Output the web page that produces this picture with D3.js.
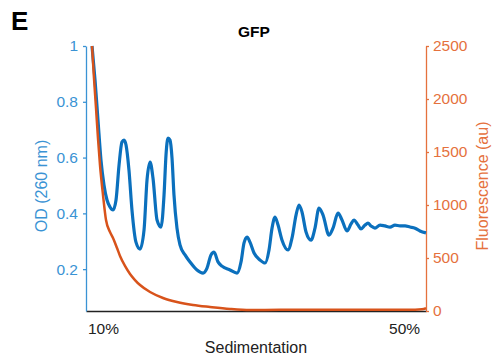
<!DOCTYPE html>
<html>
<head>
<meta charset="utf-8">
<script src="https://cdn.jsdelivr.net/npm/d3@7"></script>
<style>
  body { margin: 0; background: #fff; }
  svg text { font-family: "Liberation Sans", Arial, sans-serif; }
</style>
</head>
<body>
<svg id="chart" width="493" height="362"></svg>
<script>
// sedimentation position (%)
const xLim = [7.74, 52.92]
const xTicks = [10, 50]
const xTickLabels = ['10%', '50%']

const odTicks = [0.2, 0.4, 0.6, 0.8, 1]
const odLim = [0.05, 1]
const fluTicks = [0, 500, 1000, 1500, 2000, 2500]
const fluLim = [0, 2500]

// OD 260 trace (blue)
const odX = [8.54, 8.94, 9.33, 9.73, 10.13, 10.53, 10.93, 11.33, 11.73, 12.13, 12.52, 12.79, 13.06, 13.45,
  13.85, 14.38, 14.92, 15.45, 15.85, 16.25, 16.64, 17.18, 17.71, 18.11, 18.37, 18.64, 18.90, 19.17, 19.43,
  19.83, 20.23, 20.90, 21.56, 22.49, 23.29, 23.82, 24.35, 24.75, 25.28, 25.81, 26.88, 27.81, 28.34, 28.74,
  29.14, 29.53, 30.07, 30.86, 31.53, 32.06, 32.46, 32.86, 33.26, 33.79, 34.58, 35.12, 35.65, 36.05, 36.44,
  36.98, 37.64, 38.17, 38.70, 39.24, 40.03, 40.56, 41.23, 41.76, 42.42, 42.96, 43.35, 43.89, 44.28, 44.82,
  45.21, 45.61, 46.14, 46.81, 47.47, 48.14, 48.80, 49.47, 50.13, 50.80, 51.46, 52.12, 52.92]
const odY = [1.00, 0.878, 0.735, 0.591, 0.502, 0.448, 0.423, 0.412, 0.448, 0.573, 0.656, 0.663, 0.645, 0.555,
  0.412, 0.297, 0.272, 0.340, 0.520, 0.584, 0.527, 0.376, 0.351, 0.466, 0.609, 0.670, 0.663, 0.598, 0.466,
  0.347, 0.287, 0.251, 0.226, 0.197, 0.186, 0.204, 0.251, 0.261, 0.226, 0.211, 0.197, 0.186, 0.226, 0.294,
  0.315, 0.297, 0.258, 0.233, 0.222, 0.269, 0.347, 0.387, 0.358, 0.304, 0.269, 0.312, 0.394, 0.430, 0.405,
  0.333, 0.304, 0.347, 0.419, 0.394, 0.322, 0.347, 0.401, 0.376, 0.337, 0.362, 0.376, 0.358, 0.344, 0.358,
  0.365, 0.355, 0.347, 0.358, 0.355, 0.351, 0.358, 0.355, 0.355, 0.351, 0.347, 0.337, 0.330]

// GFP fluorescence trace (orange)
const fluX = [8.54, 8.80, 9.07, 9.33, 9.60, 10.00, 10.40, 10.93, 11.33, 11.86, 12.26, 12.92, 13.59, 14.25,
  14.92, 16.25, 17.97, 19.83, 21.96, 24.22, 26.88, 29.53, 33.52, 38.84, 44.15, 49.47, 51.46, 52.39, 52.92]
const fluY = [2500, 2198, 1915, 1632, 1377, 1094, 858, 745, 689, 594, 519, 425, 349, 292,
  245, 179, 123, 85, 57, 38, 19, 9, 12, 12, 12, 12, 12, 16, 26]

const blueLine = '#0b70bd', blueAxis = '#3a93d4'
const orangeLine = '#d8531b', orangeAxis = '#e5713d'

const svg = d3.select('#chart')
const m = { left: 86, right: 426, top: 46, bottom: 311 }

const x = d3.scaleLinear().domain(xLim).range([m.left, m.right])
const yOd = d3.scaleLinear().domain(odLim).range([m.bottom, m.top])
const yFlu = d3.scaleLinear().domain(fluLim).range([m.bottom, m.top])

// panel letter + title
svg.append('text').attr('x', 11).attr('y', 30)
  .attr('font-size', 26).attr('font-weight', 'bold').text('E')
svg.append('text').attr('x', 254).attr('y', 37).attr('text-anchor', 'middle')
  .attr('font-size', 15.5).attr('font-weight', 'bold').text('GFP')

// x axis (black)
const gx = svg.append('g').attr('transform', `translate(0,${m.bottom})`)
  .call(d3.axisBottom(x).tickValues(xTicks).tickFormat((d, i) => xTickLabels[i]).tickSize(0).tickPadding(12))
gx.select('.domain').attr('stroke', '#222').attr('stroke-width', 1.3)
gx.selectAll('text').attr('font-size', 15.5).attr('fill', '#222').attr('font-family', '"Liberation Sans", Arial, sans-serif')

// left axis
const gl = svg.append('g').attr('transform', `translate(${m.left},0)`)
  .call(d3.axisLeft(yOd).tickValues(odTicks).tickFormat(d3.format('~g')).tickSizeInner(3).tickSizeOuter(0).tickPadding(5))
gl.select('.domain').attr('stroke', blueAxis).attr('stroke-width', 1.3)
gl.selectAll('line').attr('stroke', blueAxis).attr('stroke-width', 1.3)
gl.selectAll('text').attr('font-size', 15.5).attr('fill', blueAxis).attr('font-family', '"Liberation Sans", Arial, sans-serif')

// right axis
const gr = svg.append('g').attr('transform', `translate(${m.right},0)`)
  .call(d3.axisRight(yFlu).tickValues(fluTicks).tickFormat(d3.format('d')).tickSizeInner(3).tickSizeOuter(0).tickPadding(4))
gr.select('.domain').attr('stroke', orangeAxis).attr('stroke-width', 1.3)
gr.selectAll('line').attr('stroke', orangeAxis).attr('stroke-width', 1.3)
gr.selectAll('text').attr('font-size', 15.5).attr('fill', orangeAxis).attr('font-family', '"Liberation Sans", Arial, sans-serif')

// axis titles
svg.append('text').attr('transform', 'translate(47,186) rotate(-90)').attr('text-anchor', 'middle')
  .attr('font-size', 16).attr('fill', blueAxis).text('OD (260 nm)')
svg.append('text').attr('transform', 'translate(488,186) rotate(-90)').attr('text-anchor', 'middle')
  .attr('font-size', 16).attr('fill', orangeAxis).text('Fluorescence (au)')
svg.append('text').attr('x', 256).attr('y', 353).attr('text-anchor', 'middle')
  .attr('font-size', 16).attr('fill', '#222').text('Sedimentation')

// traces
const odLine = d3.line().x(d => x(d[0])).y(d => yOd(d[1])).curve(d3.curveMonotoneX)
const fluLine = d3.line().x(d => x(d[0])).y(d => yFlu(d[1])).curve(d3.curveMonotoneX)

svg.append('path').datum(d3.zip(odX, odY))
  .attr('d', odLine).attr('fill', 'none').attr('stroke', blueLine).attr('stroke-width', 3.2)
  .attr('stroke-linejoin', 'round')
svg.append('path').datum(d3.zip(fluX, fluY))
  .attr('d', fluLine).attr('fill', 'none').attr('stroke', orangeLine).attr('stroke-width', 2.5)
  .attr('stroke-linejoin', 'round')
</script>
</body>
</html>
